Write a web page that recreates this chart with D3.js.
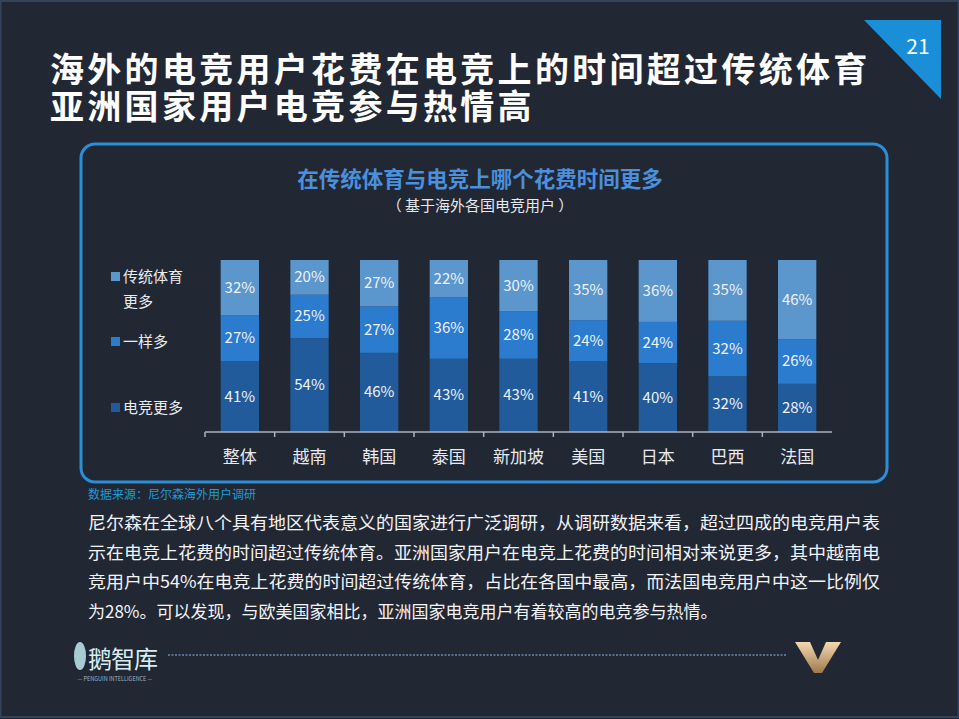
<!DOCTYPE html>
<html><head><meta charset="utf-8">
<script src="https://cdn.jsdelivr.net/npm/d3@7"></script>
<style>html,body{margin:0;padding:0;background:#222734;} svg{display:block}</style>
</head><body><svg id="c" width="959" height="719"></svg>
<script>
// ---- data ----
const categories = ["整体","越南","韩国","泰国","新加坡","美国","日本","巴西","法国"];
const esportsMore = [41,54,46,43,43,41,40,32,28];
const equalTime   = [27,25,27,36,28,24,24,32,26];
const sportsMore  = [32,20,27,22,30,35,36,35,46];
const seriesKeys  = ["电竞更多","一样多","传统体育更多"];
const seriesColors = ["#225b9c","#2b7bcf","#5b96cd"];
const titleLines = ["海外的电竞用户花费在电竞上的时间超过传统体育","亚洲国家用户电竞参与热情高"];
const chartTitle = "在传统体育与电竞上哪个花费时间更多";
const chartSubtitle = "（ 基于海外各国电竞用户 ）";
const sourceText = "数据来源：尼尔森海外用户调研";
const bodyLines = [
  "尼尔森在全球八个具有地区代表意义的国家进行广泛调研，从调研数据来看，超过四成的电竞用户表",
  "示在电竞上花费的时间超过传统体育。亚洲国家用户在电竞上花费的时间相对来说更多，其中越南电",
  "竞用户中54%在电竞上花费的时间超过传统体育，占比在各国中最高，而法国电竞用户中这一比例仅",
  "为28%。可以发现，与欧美国家相比，亚洲国家电竞用户有着较高的电竞参与热情。"
];
const pageNumber = "21";

const FONT = "'Noto Sans CJK SC','Noto Sans',sans-serif";
const svg = d3.select("#c");

// background & frame
svg.append("rect").attr("width",959).attr("height",719).attr("fill","#222734");
svg.append("rect").attr("x",0.5).attr("y",1).attr("width",958).attr("height",716)
  .attr("fill","none").attr("stroke","#34435c").attr("stroke-width",2);

// page number triangle
svg.append("path").attr("d","M864,20 L941,20 L941,99 Z").attr("fill","#1a8fd8");
svg.append("text").attr("x",918).attr("y",54).attr("text-anchor","middle")
  .attr("fill","#ffffff").attr("font-family",FONT).attr("font-size",21).text(pageNumber);

// main title (one text element, two lines)
const tt = svg.append("text").attr("y",82)
  .attr("fill","#ffffff").attr("font-family",FONT).attr("font-weight",700)
  .attr("font-size",34).attr("letter-spacing",3.3);
tt.selectAll("tspan").data(titleLines).enter().append("tspan")
  .attr("x",50).attr("dy",(d,i)=>i===0?0:37).text(d=>d);

// panel
svg.append("rect").attr("x",81).attr("y",144).attr("width",806).attr("height",338)
  .attr("rx",14).attr("fill","#222734").attr("stroke","#2a8fd6").attr("stroke-width",3);

svg.append("text").attr("x",480).attr("y",187).attr("text-anchor","middle")
  .attr("fill","#4a90dc").attr("font-family",FONT).attr("font-weight",700)
  .attr("font-size",21.5).text(chartTitle);
svg.append("text").attr("x",480).attr("y",211).attr("text-anchor","middle")
  .attr("fill","#e6e9ee").attr("font-family",FONT)
  .attr("font-size",15).text(chartSubtitle);

// chart
const x = d3.scaleBand().domain(categories).range([205,832]).paddingInner(0.45).paddingOuter(0.225);
const y = d3.scaleLinear().domain([0,1]).range([432,260]);
const rows = categories.map((c,i)=>({cat:c,"电竞更多":esportsMore[i],"一样多":equalTime[i],"传统体育更多":sportsMore[i]}));
const stacked = d3.stack().keys(seriesKeys).offset(d3.stackOffsetExpand)(rows);

const g = svg.append("g");
stacked.forEach((s,si)=>{
  const sg = g.append("g");
  sg.selectAll("rect").data(s).enter().append("rect")
    .attr("x",d=>x(d.data.cat)).attr("width",x.bandwidth())
    .attr("y",d=>y(d[1])).attr("height",d=>y(d[0])-y(d[1]))
    .attr("fill",seriesColors[si]);
  sg.selectAll("text").data(s).enter().append("text")
    .attr("x",d=>x(d.data.cat)+x.bandwidth()/2)
    .attr("y",d=>(y(d[0])+y(d[1]))/2+5)
    .attr("text-anchor","middle").attr("fill","#eef2f7")
    .attr("font-family",FONT).attr("font-size",15)
    .text(d=>d.data[s.key]+"%");
});

// axis with boundary ticks
const axisG = svg.append("g").attr("transform","translate(0,432)");
axisG.append("line").attr("x1",205).attr("x2",832).attr("stroke","#aab3c0").attr("stroke-width",1.5);
const bounds = d3.range(categories.length).map(i=>x.range()[0]+i*x.step());
axisG.selectAll("line.t").data(bounds).enter().append("line").attr("class","t")
  .attr("x1",d=>d).attr("x2",d=>d).attr("y1",0).attr("y2",5)
  .attr("stroke","#aab3c0").attr("stroke-width",1.5);
const labAxis = d3.axisBottom(x).tickSize(0).tickPadding(19);
const la = svg.append("g").attr("transform","translate(0,432)").call(labAxis);
la.select(".domain").remove();
la.selectAll("text").attr("fill","#e8ebef").attr("font-family",FONT).attr("font-size",17);

// legend
const legend = [
  {k:2, lines:["传统体育","更多"], y:277},
  {k:1, lines:["一样多"], y:342},
  {k:0, lines:["电竞更多"], y:408}
];
legend.forEach(l=>{
  svg.append("rect").attr("x",111).attr("y",l.y-5).attr("width",9).attr("height",9).attr("fill",seriesColors[l.k]);
  l.lines.forEach((t,i)=>{
    svg.append("text").attr("x",123).attr("y",l.y+5+i*25).attr("fill","#e8ebef")
      .attr("font-family",FONT).attr("font-size",15).text(t);
  });
});

// source + body
svg.append("text").attr("x",88).attr("y",499).attr("fill","#1f9ad8")
  .attr("font-family",FONT).attr("font-size",12).text(sourceText);
bodyLines.forEach((t,i)=>{
  const tx = svg.append("text").attr("x",88).attr("y",529+i*29.5).attr("fill","#f2f4f7")
    .attr("font-family",FONT).attr("font-size",17).text(t);
  if(i<3) tx.attr("textLength",792).attr("lengthAdjust","spacingAndGlyphs");
});

// footer
svg.append("ellipse").attr("cx",80).attr("cy",656).attr("rx",6).attr("ry",14).attr("fill","#bfeaf0").attr("opacity",0.85);
svg.append("text").attr("x",88).attr("y",668).attr("fill","#d6eef3").attr("font-family",FONT)
  .attr("font-size",24).attr("letter-spacing",-1).text("鹅智库");
svg.append("text").attr("x",115).attr("y",681).attr("text-anchor","middle").attr("fill","#9fb3c4")
  .attr("font-family",FONT).attr("font-size",5.5).text("— PENGUIN INTELLIGENCE —");
svg.append("line").attr("x1",168).attr("x2",786).attr("y1",655).attr("y2",655)
  .attr("stroke","#5a7090").attr("stroke-width",2).attr("stroke-dasharray","2,1.5");
const defs = svg.append("defs");
const gr = defs.append("linearGradient").attr("id","gold").attr("x1",0).attr("y1",0).attr("x2",0).attr("y2",1);
gr.append("stop").attr("offset",0).attr("stop-color","#f3d9b0");
gr.append("stop").attr("offset",1).attr("stop-color","#a0784c");
svg.append("path").attr("d","M795,642 L810,642 L818,660 L826,642 L841,642 L822,673 L814,673 Z").attr("fill","url(#gold)");
</script></body></html>
